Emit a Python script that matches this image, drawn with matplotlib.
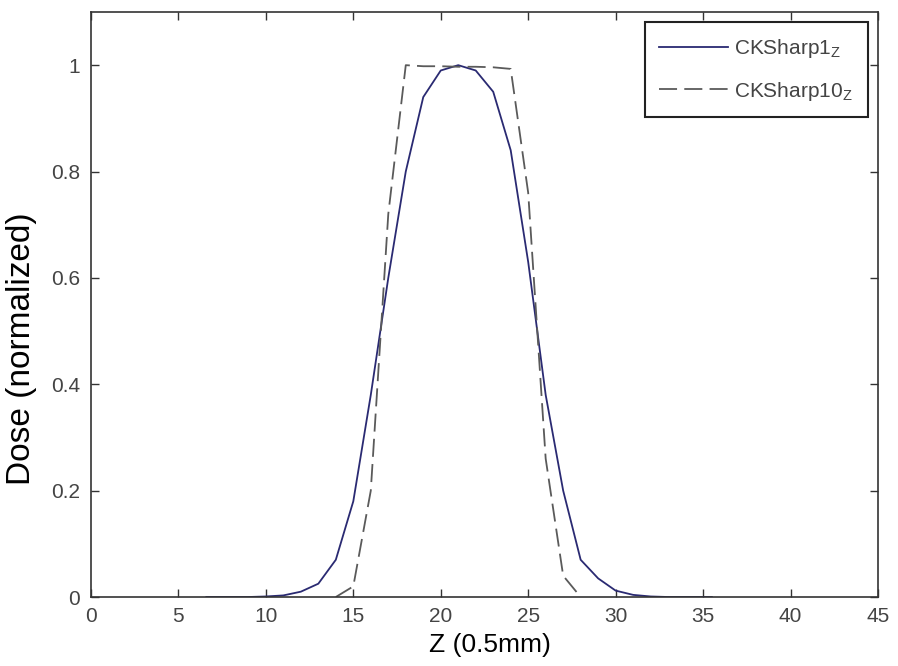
import matplotlib
matplotlib.use("Agg")
import matplotlib.pyplot as plt

plt.rcParams["font.family"] = ["Liberation Sans", "DejaVu Sans"]
plt.rcParams["mathtext.fontset"] = "custom"
plt.rcParams["mathtext.rm"] = "Liberation Sans"
plt.rcParams["mathtext.it"] = "Liberation Sans"

# -------------------------
# Data
# -------------------------
z_sharp1 = [6.6, 8, 9, 10, 11, 12, 13, 14, 15, 16, 17, 18, 19, 20, 21, 22,
            23, 24, 25, 26, 27, 28, 29, 30, 31, 32, 33, 34, 35.5]
dose_sharp1 = [0.0, 0.0, 0.0, 0.001, 0.003, 0.01, 0.025, 0.07, 0.18, 0.38,
               0.60, 0.80, 0.94, 0.99, 1.0, 0.99, 0.95, 0.84, 0.63, 0.38,
               0.20, 0.07, 0.035, 0.012, 0.004, 0.001, 0.0, 0.0, 0.0]

z_sharp10 = [14, 15, 16, 17, 18, 19, 20, 21, 22, 23, 24, 25, 26, 27, 28]
dose_sharp10 = [0.0, 0.02, 0.20, 0.72, 1.0, 0.998, 0.998, 0.997, 0.997,
                0.996, 0.993, 0.76, 0.26, 0.04, 0.0]

x_ticks = [0, 5, 10, 15, 20, 25, 30, 35, 40, 45]
y_ticks = [0, 0.2, 0.4, 0.6, 0.8, 1.0]
y_tick_labels = ["0", "0.2", "0.4", "0.6", "0.8", "1"]

# -------------------------
# Plot
# -------------------------
fig = plt.figure(figsize=(8.98, 6.66), dpi=100)
ax = fig.add_axes([0.1013, 0.1036, 0.8764, 0.8784])

ax.plot(z_sharp1, dose_sharp1, color="#2a2a72", linewidth=1.3,
        label="CKSharp1$_Z$")
ax.plot(z_sharp10, dose_sharp10, color="#5a5a5a", linewidth=1.3,
        linestyle=(0, (10, 4)), label="CKSharp10$_Z$")

ax.set_xlim(0, 45)
ax.set_ylim(0, 1.1)
ax.set_xticks(x_ticks)
ax.set_yticks(y_ticks)
ax.set_yticklabels(y_tick_labels)

ax.tick_params(direction="in", length=6, width=1, colors="#333333",
               labelcolor="#444444", labelsize=15, top=True, right=True)
ax.tick_params(axis="x", pad=7)
ax.tick_params(axis="y", pad=8)
for side in ax.spines.values():
    side.set_color("#333333")
    side.set_linewidth(1.2)

ax.set_xlabel("Z (0.5mm)", fontsize=19)
ax.set_ylabel("Dose (normalized)", fontsize=24)
ax.xaxis.set_label_coords(0.507, -0.061)
ax.yaxis.set_label_coords(-0.069, 0.425)

leg = ax.legend(loc="upper right", fontsize=15, fancybox=False,
                framealpha=1, edgecolor="#222222", handlelength=3.3,
                handletextpad=0.3, labelspacing=0.95, borderpad=0.7,
                borderaxespad=0.5, labelcolor="#444444")
leg.get_frame().set_linewidth(1.5)

fig.savefig("out.png", dpi=100)
